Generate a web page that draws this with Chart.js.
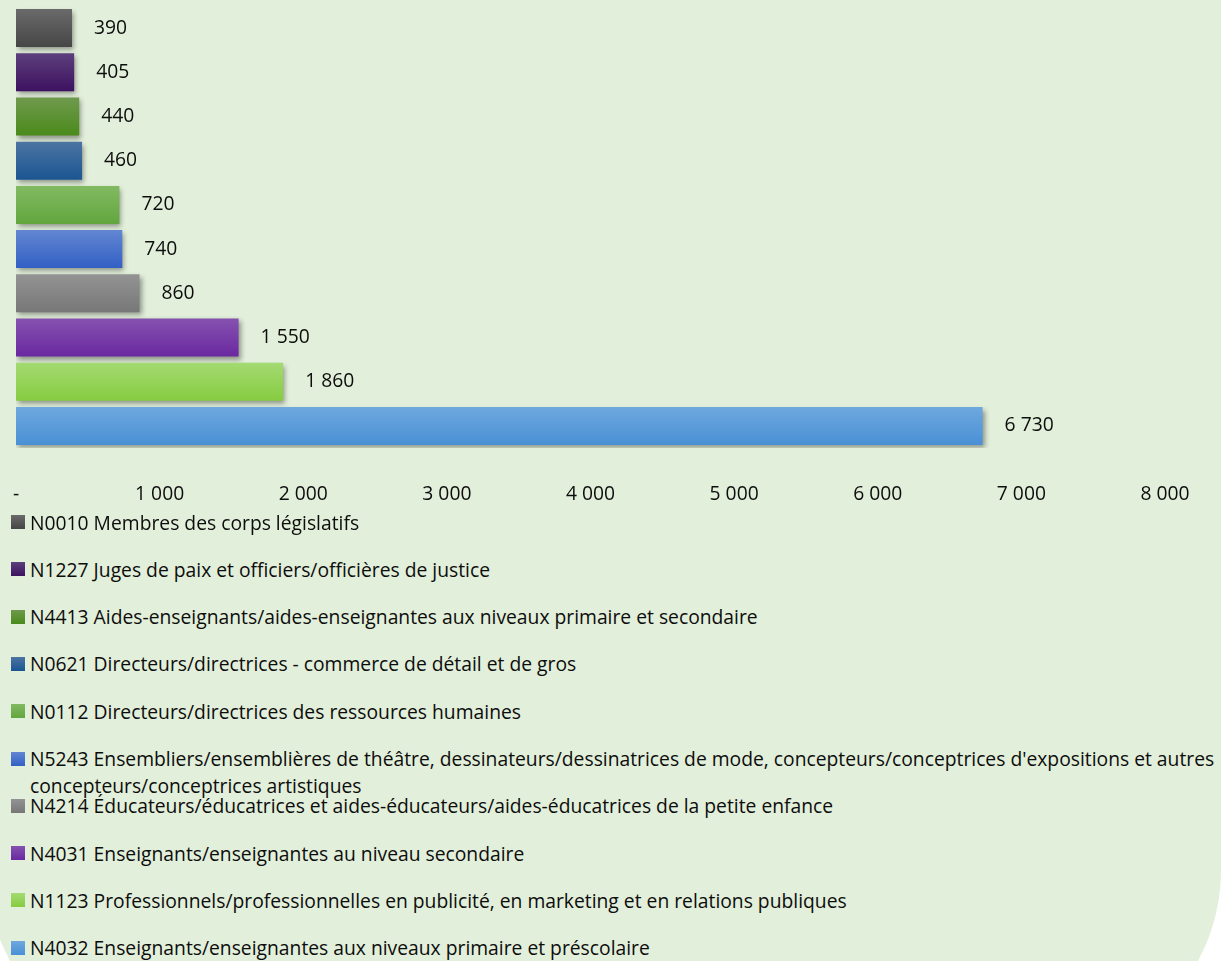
<!DOCTYPE html>
<html lang="fr">
<head>
<meta charset="utf-8">
<script src="https://cdn.jsdelivr.net/npm/chart.js@4/dist/chart.umd.min.js"></script>
<style>
  html, body { margin: 0; padding: 0; background: #fff; overflow: hidden; }
  body { width: 1231px; height: 961px; position: relative; font-family: "Open Sans", sans-serif; }
  #panel {
    position: absolute; left: -13px; top: -30px; width: 1234px; height: 1091px;
    background: #E2EFDA; border-radius: 0 0 191px 191px;
  }
  #chart { position: absolute; left: 0; top: 0; }
  #legend { position: absolute; left: 0; top: 0; width: 1231px; }
  .item { position: absolute; left: 11px; width: 1216px; font-size: 19.3px; line-height: 27px; color: #0d0d0d; }
  .item .sw { position: absolute; left: 0; top: 6.5px; width: 14px; height: 14px; }
  .item .tx { margin-left: 19px; display: block; }
</style>
</head>
<body>
<div id="panel"></div>
<canvas id="chart" width="1231" height="512"></canvas>
<div id="legend"></div>
<script>
// categories, top to bottom
const categories = [
  'N0010 Membres des corps législatifs',
  'N1227 Juges de paix et officiers/officières de justice',
  'N4413 Aides-enseignants/aides-enseignantes aux niveaux primaire et secondaire',
  'N0621 Directeurs/directrices - commerce de détail et de gros',
  'N0112 Directeurs/directrices des ressources humaines',
  "N5243 Ensembliers/ensemblières de théâtre, dessinateurs/dessinatrices de mode, concepteurs/conceptrices d'expositions et autres concepteurs/conceptrices artistiques",
  'N4214 Éducateurs/éducatrices et aides-éducateurs/aides-éducatrices de la petite enfance',
  'N4031 Enseignants/enseignantes au niveau secondaire',
  'N1123 Professionnels/professionnelles en publicité, en marketing et en relations publiques',
  'N4032 Enseignants/enseignantes aux niveaux primaire et préscolaire'
];
const values = [390, 405, 440, 460, 720, 740, 860, 1550, 1860, 6730];
const xTicks = [0, 1000, 2000, 3000, 4000, 5000, 6000, 7000, 8000];

// [top, bottom] of each bar's gradient
const colors = [
  ['#6a6a6a', '#464646'],
  ['#5c3f7c', '#3d1160'],
  ['#6f9a4e', '#4a8a1a'],
  ['#4c74a2', '#1b5592'],
  ['#82ba62', '#62a63e'],
  ['#6286d2', '#3260c4'],
  ['#939393', '#777777'],
  ['#8552b0', '#6a28a0'],
  ['#a4da72', '#86cc40'],
  ['#6ea8de', '#4a90d6']
];

const FONT = '"Open Sans", sans-serif';

function fmt(v) {
  return String(v).replace(/\B(?=(\d{3})+(?!\d))/g, ' ');
}

const barShadow = {
  id: 'barShadow',
  beforeDatasetDraw(chart) {
    const c = chart.ctx;
    c.save();
    c.shadowColor = 'rgba(0,0,0,0.38)';
    c.shadowBlur = 5;
    c.shadowOffsetX = 2;
    c.shadowOffsetY = 3;
  },
  afterDatasetDraw(chart) {
    chart.ctx.restore();
  }
};

const valueLabels = {
  id: 'valueLabels',
  afterDatasetsDraw(chart) {
    const c = chart.ctx;
    const meta = chart.getDatasetMeta(0);
    c.save();
    c.font = '19.3px ' + FONT;
    c.fillStyle = '#0d0d0d';
    c.textAlign = 'left';
    c.textBaseline = 'middle';
    meta.data.forEach((bar, i) => {
      c.fillText(fmt(chart.data.datasets[0].data[i]), bar.x + 22, bar.y);
    });
    c.restore();
  }
};

const chart = new Chart(document.getElementById('chart'), {
  type: 'bar',
  data: {
    labels: categories,
    datasets: [{
      data: values,
      backgroundColor(ctx) {
        const i = ctx.dataIndex;
        const y = ctx.chart.scales.y;
        if (i === undefined || !y) return colors[0][1];
        const py = y.getPixelForValue(i);
        if (!isFinite(py)) return colors[i][1];
        const g = ctx.chart.ctx.createLinearGradient(0, py - 19, 0, py + 19);
        g.addColorStop(0, colors[i][0]);
        g.addColorStop(1, colors[i][1]);
        return g;
      },
      borderWidth: 0,
      barPercentage: 0.86,
      categoryPercentage: 1
    }]
  },
  options: {
    indexAxis: 'y',
    responsive: false,
    animation: false,
    devicePixelRatio: 1,
    layout: { padding: { top: 6, left: 16, right: 66, bottom: 0 } },
    plugins: {
      legend: { display: false },
      tooltip: { enabled: false }
    },
    scales: {
      y: { display: false },
      x: {
        min: 0,
        max: 8000,
        border: { display: false },
        grid: { display: false, drawTicks: false },
        afterBuildTicks(scale) {
          scale.ticks = xTicks.map(v => ({ value: v }));
        },
        afterFit(scale) {
          scale.height = 64;
          scale.paddingLeft = 0;
          scale.paddingRight = 0;
        },
        ticks: {
          padding: 35,
          color: '#0d0d0d',
          font: { family: FONT, size: 19.3 },
          callback: v => v === 0 ? '-' : fmt(v)
        }
      }
    }
  },
  plugins: [barShadow, valueLabels]
});

// legend built from the chart data
const legend = document.getElementById('legend');
chart.data.labels.forEach((label, i) => {
  const item = document.createElement('div');
  item.className = 'item';
  item.style.top = (522 + i * 47.3 - 13.5) + 'px';
  const sw = document.createElement('span');
  sw.className = 'sw';
  sw.style.background = 'linear-gradient(' + colors[i][0] + ',' + colors[i][1] + ')';
  const tx = document.createElement('span');
  tx.className = 'tx';
  tx.textContent = label;
  item.appendChild(sw);
  item.appendChild(tx);
  legend.appendChild(item);
});
</script>
</body>
</html>
